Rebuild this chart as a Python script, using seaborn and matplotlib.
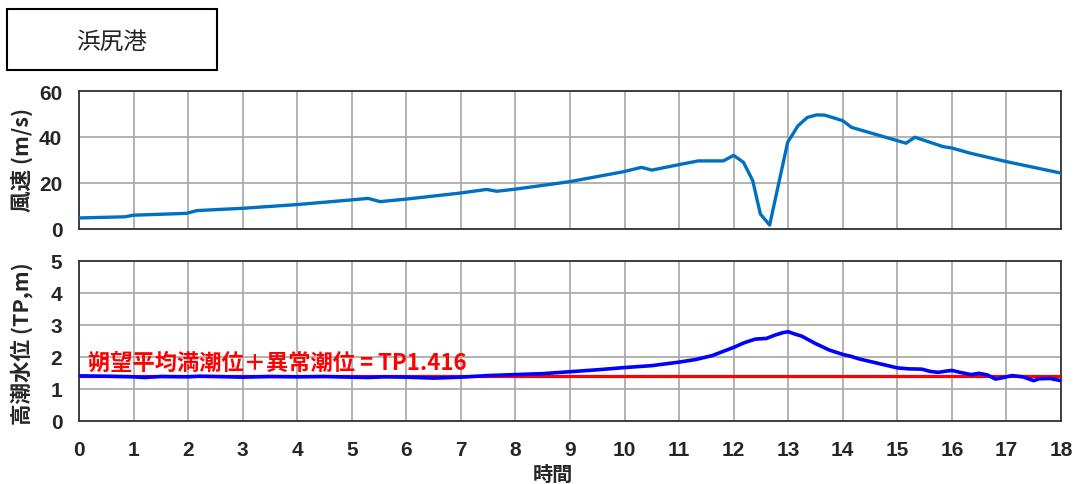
import matplotlib
matplotlib.use("Agg")
import matplotlib.pyplot as plt
import seaborn as sns
import pandas as pd
from matplotlib.patches import Rectangle

# Wind speed at the port (m/s) against elapsed time (hours)
wind_hours = [0, 0.84, 1.0, 1.97, 2.16, 3.0, 3.99, 4.97, 5.30, 5.52, 6.0, 6.98,
              7.47, 7.66, 7.99, 9.0, 9.98, 10.31, 10.50, 11.0, 11.35, 11.81, 12.0,
              12.18, 12.35, 12.49, 12.66, 12.99, 13.18, 13.35, 13.52, 13.67, 14.0,
              14.16, 15.16, 15.32, 15.84, 16.0, 16.33, 17.0, 18.0]
wind_speed = [4.8, 5.3, 6.0, 6.8, 8.0, 9.0, 10.6, 12.6, 13.3, 11.9, 13.0, 15.6,
              17.2, 16.4, 17.3, 20.6, 24.9, 26.8, 25.6, 28.0, 29.6, 29.6, 32.0,
              29.0, 21.0, 6.5, 1.7, 37.7, 44.9, 48.5, 49.6, 49.5, 47.1,
              44.2, 37.3, 39.9, 35.8, 35.2, 33.0, 29.3, 24.3]

# Storm-surge water level (TP, m)
tide_hours = [0, 0.5, 1.0, 1.2, 1.5, 2.0, 2.2, 2.5, 3.0, 3.5, 4.0, 4.5, 5.0, 5.3,
              5.6, 6.0, 6.5, 7.0, 7.5, 8.0, 8.5, 9.0, 9.5, 10.0, 10.5, 11.0, 11.3,
              11.6, 12.0, 12.2, 12.4, 12.6, 12.75, 12.9, 13.0, 13.1, 13.25, 13.5,
              13.75, 14.0, 14.15, 14.3, 14.5, 14.7, 15.0, 15.2, 15.45, 15.6, 15.75,
              15.9, 16.0, 16.15, 16.35, 16.5, 16.65, 16.8, 16.95, 17.1, 17.3, 17.5,
              17.6, 17.8, 18.0]
tide_level = [1.41, 1.40, 1.38, 1.36, 1.39, 1.38, 1.40, 1.39, 1.37, 1.39, 1.38,
              1.39, 1.37, 1.36, 1.38, 1.37, 1.34, 1.37, 1.42, 1.45, 1.48, 1.54,
              1.60, 1.67, 1.73, 1.84, 1.92, 2.04, 2.30, 2.45, 2.56, 2.58, 2.68,
              2.76, 2.79, 2.73, 2.65, 2.42, 2.22, 2.08, 2.02, 1.94, 1.86, 1.78,
              1.66, 1.63, 1.62, 1.55, 1.52, 1.56, 1.58, 1.52, 1.45, 1.49, 1.44,
              1.31, 1.36, 1.42, 1.38, 1.26, 1.32, 1.33, 1.26]

reference_level = 1.416
reference_label = "朔望平均満潮位＋異常潮位 = TP1.416"
station_name = "浜尻港"
x_ticks = list(range(0, 19))

sns.set_style("white")
plt.rcParams["font.family"] = ["Liberation Sans", "Noto Sans CJK JP", "DejaVu Sans"]
cjk = ["Noto Sans CJK JP", "DejaVu Sans"]

fig = plt.figure(figsize=(10.79, 4.85), dpi=100)
ax_w = fig.add_axes([0.0732, 0.5258, 0.9101, 0.2845])
ax_t = fig.add_axes([0.0732, 0.1299, 0.9101, 0.3299])

wind_df = pd.DataFrame({"hour": wind_hours, "speed": wind_speed})
tide_df = pd.DataFrame({"hour": tide_hours, "level": tide_level})

sns.lineplot(data=wind_df, x="hour", y="speed", ax=ax_w, color="#0070C0",
             linewidth=2.4, zorder=3)
ax_t.axhline(reference_level, color="#FF0000", linewidth=2.3, zorder=3)
sns.lineplot(data=tide_df, x="hour", y="level", ax=ax_t, color="#0000FF",
             linewidth=2.6, zorder=4)

for ax in (ax_w, ax_t):
    ax.set_xlim(0, 18)
    ax.set_xticks(x_ticks)
    ax.grid(True, color="#a6a6a6", linewidth=1.2)
    ax.set_axisbelow(True)
    for s in ax.spines.values():
        s.set_visible(True)
        s.set_color("#333333")
        s.set_linewidth(1.3)
    ax.tick_params(length=0, labelsize=15)

ax_w.set_ylim(0, 60)
ax_w.set_yticks([0, 20, 40, 60])
ax_w.tick_params(axis="x", labelbottom=False)
ax_w.tick_params(axis="y", pad=12)
ax_w.set_xlabel("")
for lbl in ax_w.get_yticklabels():
    lbl.set_fontweight("bold")

ax_t.set_ylim(0, 5)
ax_t.set_yticks([0, 1, 2, 3, 4, 5])
ax_t.tick_params(axis="y", pad=12)
ax_t.tick_params(axis="x", pad=14)
for lbl in ax_t.get_yticklabels() + ax_t.get_xticklabels():
    lbl.set_fontweight("bold")

ax_w.set_ylabel("風速 (m/s)", fontsize=15.5, fontweight="bold", family=cjk)
ax_w.yaxis.set_label_coords(22 / 1079, 1 - 160 / 485, transform=fig.transFigure)
ax_t.set_ylabel("高潮水位 (TP,m)", fontsize=15.5, fontweight="bold", family=cjk)
ax_t.yaxis.set_label_coords(22 / 1079, 1 - 344 / 485, transform=fig.transFigure)
ax_t.set_xlabel("時間", fontsize=14.5, fontweight="bold", family=cjk)
ax_t.xaxis.set_label_coords(553 / 1079, 1 - 474 / 485, transform=fig.transFigure)
ax_t.xaxis.label.set_va("center")
ax_w.yaxis.label.set_va("center")
ax_t.yaxis.label.set_va("center")

ax_t.text(0.17, 1.63, reference_label, color="#FF0000", fontsize=16,
          fontweight="bold", family=cjk, va="baseline", ha="left", zorder=5)

# Station name box
fig.patches.append(Rectangle((7 / 1079, 1 - 71 / 485), 210 / 1079, 61 / 485,
                             transform=fig.transFigure, facecolor="white",
                             edgecolor="black", linewidth=1.5))
fig.text(112 / 1079, 1 - 42 / 485, station_name, fontsize=17, family=cjk,
         ha="center", va="center")

fig.savefig("out.png", dpi=100)
